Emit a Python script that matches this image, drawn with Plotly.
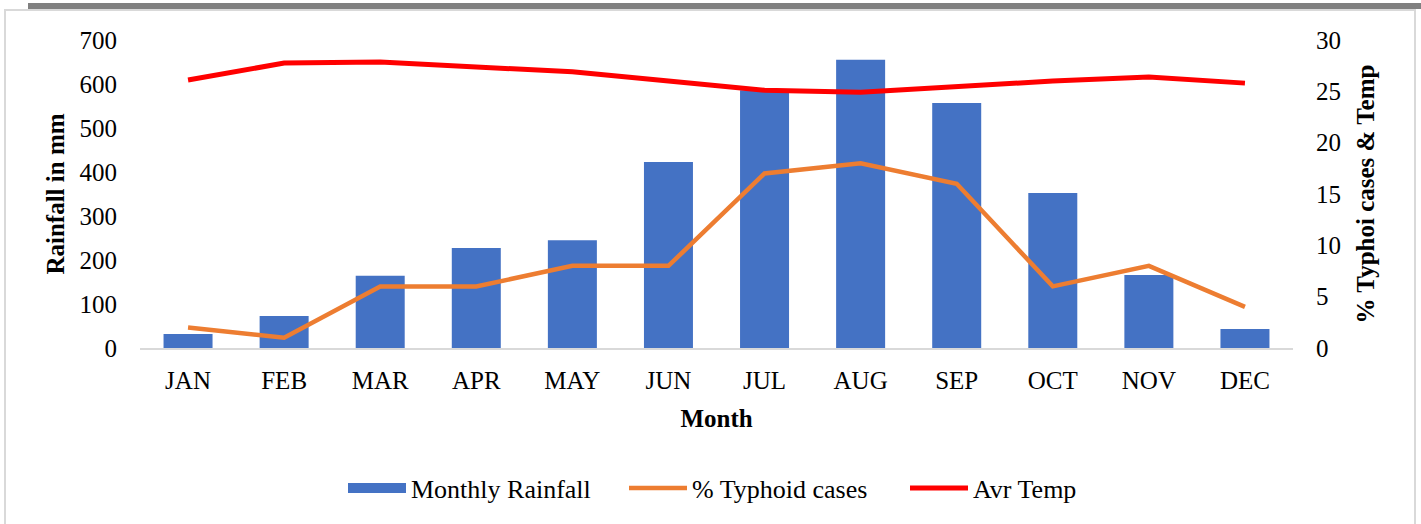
import plotly.graph_objects as go

months = ["JAN", "FEB", "MAR", "APR", "MAY", "JUN", "JUL", "AUG", "SEP", "OCT", "NOV", "DEC"]
rainfall = [32, 73, 164, 227, 245, 423, 586, 655, 557, 352, 166, 43]
typhoid = [2, 1, 6, 6, 8, 8, 17, 18, 16, 6, 8, 4]
temp = [26.1, 27.75, 27.85, 27.4, 26.9, 26.0, 25.1, 24.9, 25.5, 26.0, 26.4, 25.8]

FONT = "Liberation Serif"
FS = 25

fig = go.Figure()
fig.add_trace(go.Bar(x=months, y=rainfall, name="Monthly Rainfall", showlegend=False,
                     marker=dict(color="#4472C4", line=dict(width=0)), yaxis="y"))
# legend-only entry for the bars (wide rectangle swatch)
fig.add_trace(go.Scatter(x=[None], y=[None], name="Monthly Rainfall", mode="lines",
                         line=dict(color="#4472C4", width=14), yaxis="y"))
fig.add_trace(go.Scatter(x=months, y=typhoid, name="% Typhoid cases", mode="lines",
                         line=dict(color="#ED7D31", width=4.5), yaxis="y2"))
fig.add_trace(go.Scatter(x=months, y=temp, name="Avr Temp", mode="lines",
                         line=dict(color="#FF0000", width=5), yaxis="y2"))

W, H = 1421, 524
L, R, T, B = 140, 128, 40, 176
pw, ph = W - L - R, H - T - B

def px(x):
    return (x - L) / pw

def py(y):
    return (H - B - y) / ph

fig.update_layout(
    width=W, height=H,
    margin=dict(l=L, r=R, t=T, b=B),
    paper_bgcolor="white", plot_bgcolor="white",
    font=dict(family=FONT, size=FS, color="black"),
    bargap=0.49,
    showlegend=True,
    legend=dict(orientation="h", x=px(343), xanchor="left", y=py(488), yanchor="middle",
                font=dict(family=FONT, size=26, color="black"), entrywidth=208,
                itemwidth=58, tracegroupgap=0),
    xaxis=dict(showgrid=False, showline=True, linecolor="#D9D9D9", linewidth=1.5,
               ticks="", ticklabelstandoff=9, zeroline=False,
               title=dict(text="<b>Month</b>", standoff=17, font=dict(family=FONT, size=FS))),
    yaxis=dict(range=[0, 700], dtick=100, showgrid=False, showline=False, zeroline=False,
               ticks="", ticklabelstandoff=22,
               title=dict(text="<b>Rainfall in mm</b>", standoff=7, font=dict(family=FONT, size=FS))),
    yaxis2=dict(range=[0, 30], dtick=5, overlaying="y", side="right", showgrid=False,
                showline=False, zeroline=False, ticks="", ticklabelstandoff=22,
                title=dict(text="<b>% Typhoi cases & Temp</b>", standoff=16, font=dict(family=FONT, size=FS))),
    shapes=[
        dict(type="rect", xref="paper", yref="paper", x0=px(5), x1=px(1415), y0=py(530), y1=py(10),
             line=dict(color="#D9D9D9", width=2), fillcolor="rgba(0,0,0,0)", layer="below"),
        dict(type="rect", xref="paper", yref="paper", x0=px(28), x1=px(1425), y0=py(9), y1=py(3),
             line=dict(width=0), fillcolor="#808080", layer="below"),
    ],
)

fig.write_html("out.html", config={"displayModeBar": False},
               post_script="document.body.style.margin='0';document.body.style.overflow='hidden';")
